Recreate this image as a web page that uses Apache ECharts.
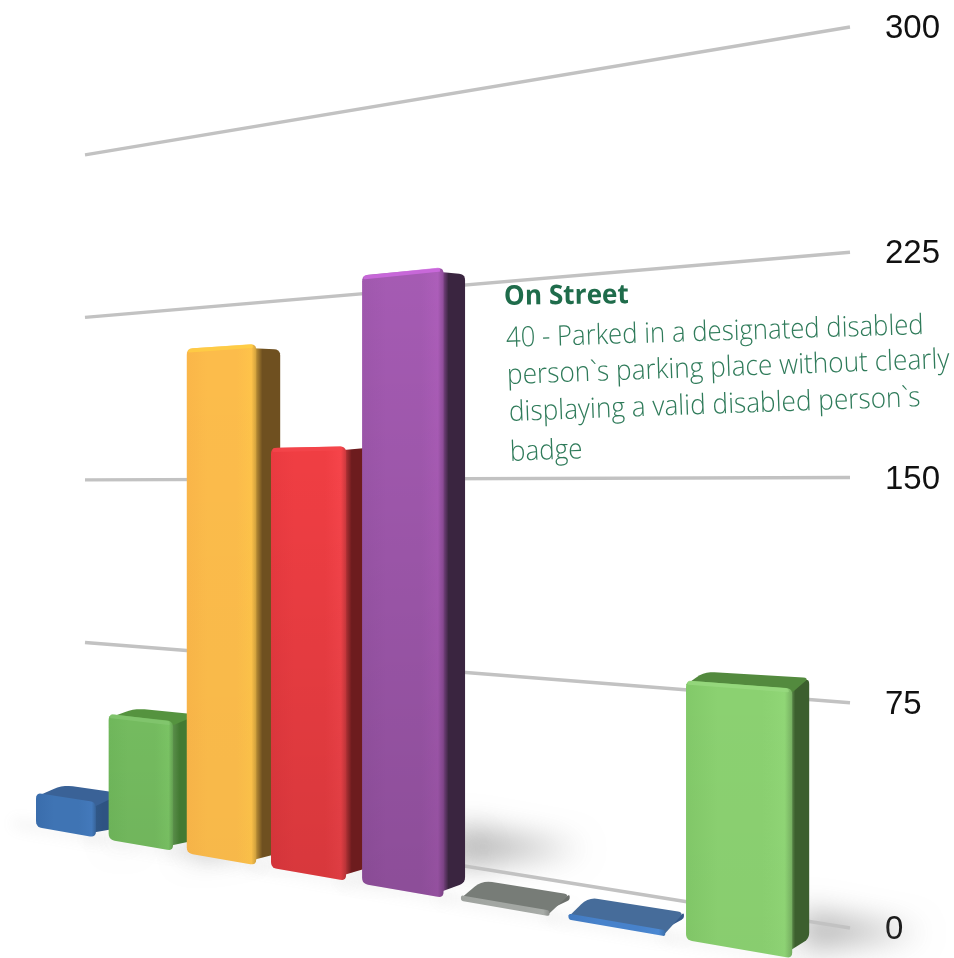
<!DOCTYPE html>
<html>
<head>
<meta charset="utf-8">
<style>html,body{margin:0;padding:0;background:#fff}#chart{width:954px;height:958px}</style>
<script src="https://cdn.jsdelivr.net/npm/echarts@6/dist/echarts.min.js"></script>
</head>
<body>
<div id="chart"></div>
<script>
// Offence counts per contravention code, with a tilted wall and floor.
const categories = ['01', '02', '12', '16', '40', '47', '48', '99'];
const counts = [15, 53, 205, 164, 228, 2, 2, 85];
const axisTicks = [0, 75, 150, 225, 300];
const captionTitle = 'On Street';
const captionLines = [
  '40 - Parked in a designated disabled',
  'person`s parking place without clearly',
  'displaying a valid disabled person`s',
  'badge'
];

// Face colours for each bar: front stops (edge, body, highlight), top, side, lower shading.
const frontShades = [
  ['#3a6dac', '#3f74b4', '#4379bb'],
  ['#6fb75b', '#74bb5f', '#7ac364'],
  ['#fab649', '#fcbc4b', '#fec34a'],
  ['#ea3a40', '#f03e43', '#f6444a'],
  ['#a058ae', '#a55bb3', '#ad5eba'],
  ['#9da19d', '#a3a7a3', '#a8aca8'],
  ['#427ac0', '#4782cb', '#4b88d2'],
  ['#82c969', '#8bd171', '#90d676']
];
const topShades = ['#3a6297', '#55933f', '#ffd044', '#f4474c', '#d36ce6', '#777c77', '#466c9a', '#538a3e'];
const sideShades = ['#2e5382', '#437a33', '#6f5020', '#6d1c1e', '#3a2540', '#6b6f6b', '#35598a', '#3c5f2e'];
const lowerShade = [0, 0.03, 0.02, 0.1, 0.15, 0, 0, 0.02];

const chart = echarts.init(document.getElementById('chart'));

// Multiplies a #rrggbb colour's channels by a factor.
function darken(hex, factor) {
  const n = parseInt(hex.slice(1), 16);
  const ch = s => Math.round(((n >> s) & 255) * factor);
  return 'rgb(' + ch(16) + ',' + ch(8) + ',' + ch(0) + ')';
}

// Perspective of the wall and of the bars' front plane, taken from plot coordinates.
const wallScale = x => (2.167 + (x - 85) * 0.001093) / 3.003;
const wallPoint = (x, py, plotBottom) =>
  [x, 928 - (850 - x) * 0.1608 - (plotBottom - py) * wallScale(x)];

function frontPoint(px, py, rect) {
  const t = (px - rect.x) / (rect.width / categories.length) - 0.085;
  const x = (68.85 * t + 36) / (1 - 0.035 * t);
  const floor = 827 + (x - 36) * 0.1737;
  return [x, floor - (rect.y + rect.height - py) * 1.08 * wallScale(x)];
}

// Moves a front-plane point to the back of the bar; depth depends on height above the floor.
function backPoint(p, height) {
  return [p[0] + 26 - (p[0] - 100) * 0.013, p[1] - 10 - (p[0] - 100) * 0.014 + 0.034 * height];
}

// Replaces polygon corners with short curves; radius may be one number or one per corner.
function rounded(points, radius) {
  const out = [];
  const n = points.length;
  for (let i = 0; i < n; i++) {
    const p = points[i], a = points[(i + n - 1) % n], b = points[(i + 1) % n];
    const la = Math.hypot(a[0] - p[0], a[1] - p[1]) || 1;
    const lb = Math.hypot(b[0] - p[0], b[1] - p[1]) || 1;
    const wanted = Array.isArray(radius) ? radius[i] : radius;
    const r = Math.min(wanted, la * 0.45, lb * 0.45);
    const s = [p[0] + (a[0] - p[0]) * r / la, p[1] + (a[1] - p[1]) * r / la];
    const e = [p[0] + (b[0] - p[0]) * r / lb, p[1] + (b[1] - p[1]) * r / lb];
    for (let k = 0; k <= 5; k++) {
      const u = k / 5, v = 1 - u;
      out.push([v * v * s[0] + 2 * u * v * p[0] + u * u * e[0], v * v * s[1] + 2 * u * v * p[1] + u * u * e[1]]);
    }
  }
  return out;
}

function barCorners(params, api) {
  const rect = params.coordSys;
  const i = api.value(0);
  const half = 0.415 * rect.width / categories.length;
  const topC = api.coord([i, api.value(1)]);
  const baseC = api.coord([i, 0]);
  const fl = frontPoint(topC[0] - half, baseC[1], rect);
  const fr = frontPoint(topC[0] + half, baseC[1], rect);
  const tl = frontPoint(topC[0] - half, topC[1], rect);
  const tr = frontPoint(topC[0] + half, topC[1], rect);
  return { fl, fr, tl, tr, height: fr[1] - tr[1] };
}

function renderWallLine(params, api) {
  const rect = params.coordSys;
  const py = api.coord([0, api.value(1)])[1];
  const bottom = rect.y + rect.height;
  const a = wallPoint(rect.x, py, bottom);
  const b = wallPoint(rect.x + rect.width, py, bottom);
  return {
    type: 'line',
    shape: { x1: a[0], y1: a[1], x2: b[0], y2: b[1] },
    style: { stroke: '#c2c2c2', lineWidth: 3.4, lineCap: 'butt' }
  };
}

function renderShadow(params, api) {
  const c = barCorners(params, api);
  const h = c.height;
  const br = backPoint(c.fr, 0);
  const centre = br[1] + 12.6 - h * 0.0787;
  const spread = Math.min(20, h * 0.1);
  const len = Math.min(118, h * 0.42);
  const away = 3000;
  const pts = [
    [br[0] - 8 - away, centre - spread],
    [br[0] + len - away, centre + 3],
    [br[0] - 8 - away, centre + spread]
  ];
  // The polygon itself stays off canvas, only its blurred shadow lands on the floor.
  return {
    type: 'group',
    children: [
      {
        type: 'polygon',
        shape: { points: pts },
        style: {
          fill: '#000',
          shadowColor: 'rgba(130,130,130,0.6)',
          shadowBlur: 30,
          shadowOffsetX: away
        }
      },
      {
        type: 'polygon',
        shape: {
          points: [
            [c.fl[0] - 22 - away, c.fl[1] - 10],
            [c.fr[0] + 4 - away, c.fr[1] - 4],
            [c.fr[0] + 4 - away, c.fr[1] + 1],
            [c.fl[0] - 22 - away, c.fl[1] - 4]
          ]
        },
        style: {
          fill: '#000',
          shadowColor: 'rgba(150,150,150,0.16)',
          shadowBlur: 14,
          shadowOffsetX: away,
          shadowOffsetY: 3
        }
      }
    ]
  };
}

function renderBar(params, api) {
  const i = api.value(0);
  const c = barCorners(params, api);
  const h = c.height;
  const tall = h > 350;
  const bfr = backPoint(c.fr, 0);
  const btl = backPoint(c.tl, h);
  const btr = backPoint(c.tr, h);
  const shades = frontShades[i];
  const radius = Math.min(6, h * 0.4 + 1);
  const frontFill = new echarts.graphic.LinearGradient(0, 0, 1, 0, [
    { offset: 0, color: shades[0] },
    { offset: 0.3, color: shades[1] },
    { offset: 0.72, color: shades[1] },
    { offset: 0.93, color: shades[2] },
    { offset: 1, color: darken(shades[2], 0.82) }
  ]);
  const sideFill = new echarts.graphic.LinearGradient(0, 0, 1, 0, [
    { offset: 0, color: darken(shades[2], 0.82) },
    { offset: 0.25, color: darken(shades[2], 0.72) },
    { offset: 0.44, color: sideShades[i] },
    { offset: 1, color: sideShades[i] }
  ]);
  // Side and top run a little under the front face so no gap shows at its rounded corners.
  const tuck = Math.min(4, h * 0.5);
  const sideBottom = [c.fr[0] - 8, c.fr[1] - tuck];
  const sideTop = [c.tr[0] - 8, c.tr[1] + tuck];
  const topLeft = [c.tl[0], c.tl[1] + tuck];
  const topRight = [c.tr[0], c.tr[1] + tuck];
  const children = [
    {
      type: 'polygon',
      shape: { points: rounded([sideBottom, bfr, btr, sideTop], [0, 6, 6, 0]) },
      style: { fill: sideFill }
    }
  ];
  if (!tall) {
    children.push({
      type: 'polygon',
      shape: { points: rounded([topLeft, topRight, btr, btl], [0, 0, 6, 10]) },
      style: { fill: topShades[i] }
    });
  }
  const front = rounded([c.tl, c.tr, c.fr, c.fl], radius);
  children.push({
    type: 'polygon',
    shape: { points: front },
    style: { fill: frontFill }
  });
  if (lowerShade[i] > 0) {
    children.push({
      type: 'polygon',
      shape: { points: front },
      style: {
        fill: new echarts.graphic.LinearGradient(0, 0, 0, 1, [
          { offset: 0, color: 'rgba(0,0,0,0)' },
          { offset: 1, color: 'rgba(0,0,0,' + lowerShade[i] + ')' }
        ])
      }
    });
  }
  if (h > 100) {
    const rim = [[c.tl[0] + 1, c.tl[1] + 4], [c.tr[0] - 3, c.tr[1] + 4], [c.tr[0] - 4, c.tr[1]], [c.tl[0] + 2, c.tl[1]]];
    children.push({
      type: 'polygon',
      shape: { points: rounded(rim, 2) },
      style: { fill: tall ? topShades[i] : echarts.color.lift(shades[2], 0.08), opacity: 0.75 }
    });
  }
  return { type: 'group', children };
}

const barData = categories.map((_, i) => [i, counts[i]]);

// Caption lines sit on slightly rising baselines.
const captionLayout = [
  { x: 506, y: 339, rotation: 0.031, scaleX: 0.919 },
  { x: 507, y: 376, rotation: 0.036, scaleX: 0.936 },
  { x: 509, y: 413, rotation: 0.036, scaleX: 0.935 },
  { x: 510, y: 453, rotation: 0.038, scaleX: 0.93 }
];
const captionFill = '#2f7b5a';

chart.setOption({
  animation: false,
  backgroundColor: '#ffffff',
  grid: { left: 85, right: 104, top: 27, bottom: 30 },
  xAxis: { type: 'category', data: categories, show: false },
  yAxis: {
    type: 'value',
    position: 'right',
    min: 0,
    max: 300,
    interval: 75,
    axisLine: { show: false },
    axisTick: { show: false },
    splitLine: { show: false },
    axisLabel: {
      show: true,
      margin: 35,
      color: '#111111',
      fontFamily: 'Liberation Sans',
      fontSize: 33,
      verticalAlign: 'top',
      lineHeight: 4,
      customValues: axisTicks
    }
  },
  graphic: [
    {
      type: 'text',
      x: 504,
      y: 297,
      rotation: 0.012,
      scaleX: 0.97,
      style: {
        text: captionTitle,
        font: 'bold 27px "Open Sans"',
        fill: '#1f6c4b',
        verticalAlign: 'middle'
      },
      z: 20
    }
  ].concat(captionLines.map((line, i) => ({
    type: 'text',
    x: captionLayout[i].x,
    y: captionLayout[i].y,
    rotation: captionLayout[i].rotation,
    scaleX: captionLayout[i].scaleX,
    style: {
      text: line,
      font: '300 28px "Open Sans"',
      fill: captionFill,
      verticalAlign: 'middle'
    },
    z: 20
  }))),
  series: [
    { type: 'custom', z: 1, clip: false, data: barData, encode: { x: 0, y: 1 }, renderItem: renderShadow, silent: true },
    { type: 'custom', z: 2, clip: false, data: axisTicks.map(v => [0, v]), encode: { x: 0, y: 1 }, renderItem: renderWallLine, silent: true },
    { type: 'custom', z: 3, clip: false, data: barData, encode: { x: 0, y: 1 }, renderItem: renderBar, silent: true }
  ]
});
</script>
</body>
</html>
